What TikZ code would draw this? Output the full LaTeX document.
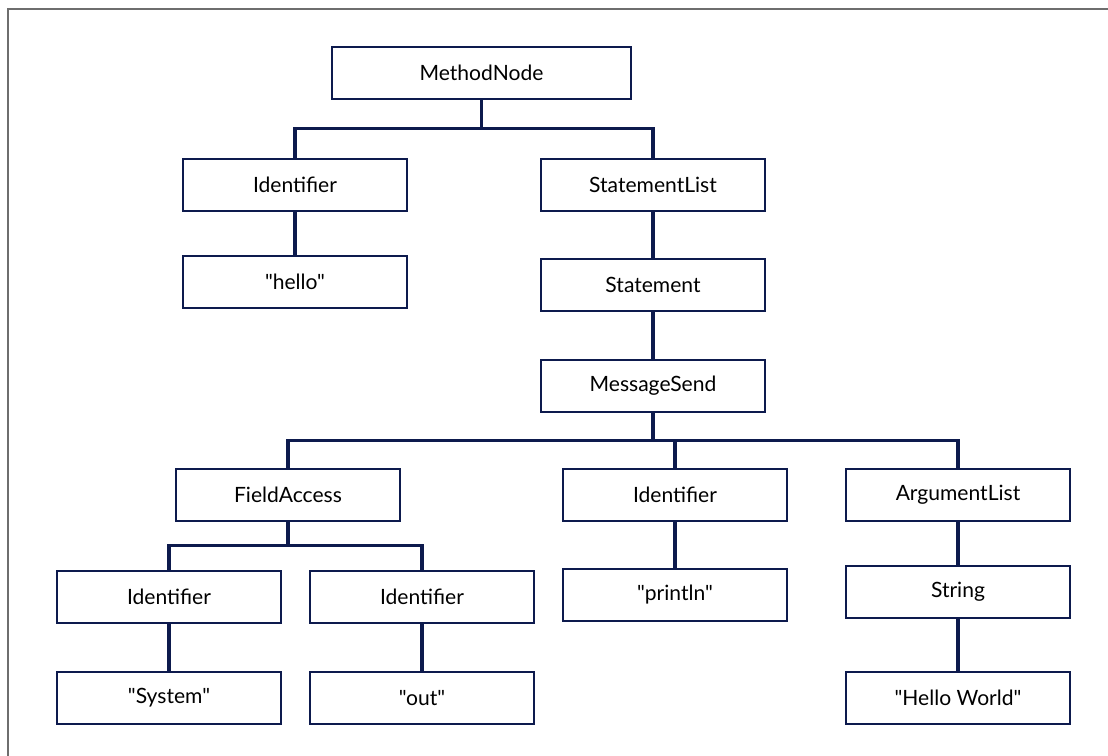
\documentclass[tikz,border=0pt]{standalone}
\usepackage{fontspec}
\setmainfont{Lato}[Ligatures=TeXOff]
\definecolor{navy}{HTML}{0D1A4D}
\definecolor{framegray}{HTML}{6E6E6E}
\tikzset{
  box/.style={draw=navy, line width=1.1pt, fill=white, minimum width=168pt,
    minimum height=39pt, inner sep=0pt, font=\fontsize{15.8}{18}\selectfont},
  link/.style={draw=navy, line width=2.6pt},
}
\begin{document}
\begin{tikzpicture}[x=0.75pt, y=-0.75pt]
  \useasboundingbox (0,0) rectangle (1108,756);
  \draw[framegray, line width=1.5pt] (8,760) -- (8,9) -- (1112,9);

  % top levels
  \node[box, minimum width=224pt] (mn) at (481.5,73) {MethodNode};
  \node[box] (id1) at (295,185) {Identifier};
  \node[box] (sl) at (653,185) {StatementList};
  \node[box] (hello) at (295,282) {"hello"};
  \node[box] (stmt) at (653,285) {Statement};
  \node[box] (msend) at (653,386) {MessageSend};

  % message send parts
  \node[box] (fa) at (288,495) {FieldAccess};
  \node[box] (id2) at (675,495) {Identifier};
  \node[box] (al) at (958,495) {ArgumentList};
  \node[box] (id3) at (169,597) {Identifier};
  \node[box] (id4) at (422,597) {Identifier};
  \node[box] (println) at (675,595) {"println"};
  \node[box] (str) at (958,592) {String};
  \node[box] (sys) at (169,698) {"System"};
  \node[box] (out) at (422,698) {"out"};
  \node[box] (hw) at (958,698) {"Hello World"};

  \draw[link] (mn.south) -- ++(0,29) -| (id1.north);
  \draw[link] (mn.south) -- ++(0,29) -| (sl.north);
  \draw[link] (id1) -- (hello);
  \draw[link] (sl) -- (stmt);
  \draw[link] (stmt) -- (msend);

  \draw[link] (msend.south) -- ++(0,28) -| (fa.north);
  \draw[link] (msend.south) -- ++(0,28) -| (id2.north);
  \draw[link] (msend.south) -- ++(0,28) -| (al.north);
  \draw[link] (fa.south) -- ++(0,24) -| (id3.north);
  \draw[link] (fa.south) -- ++(0,24) -| (id4.north);
  \draw[link] (id2) -- (println);
  \draw[link] (al) -- (str);
  \draw[link] (id3) -- (sys);
  \draw[link] (id4) -- (out);
  \draw[link] (str) -- (hw);
\end{tikzpicture}
\end{document}
